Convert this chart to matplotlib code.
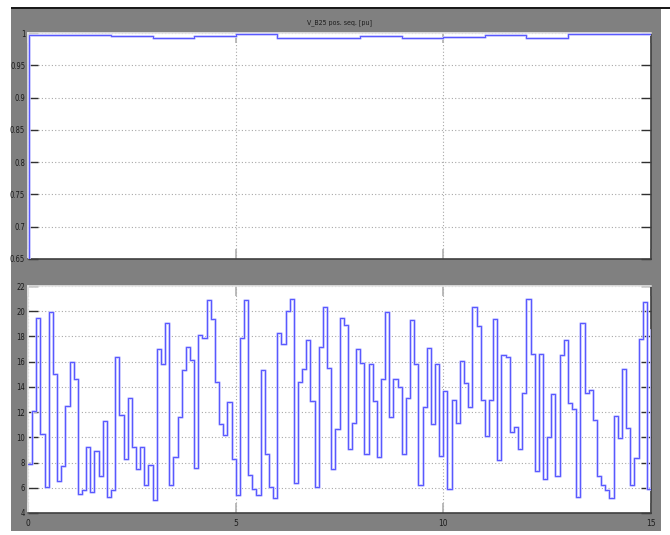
import matplotlib
matplotlib.use("Agg")
import matplotlib.pyplot as plt
from matplotlib.patches import Rectangle
import numpy as np

# ---- data -------------------------------------------------------------
title_text = "V_B25 pos. seq. [pu]"

# positive-sequence voltage at B25 (pu), piecewise constant
vpos_t = [0.0, 0.02, 2, 3, 4, 5, 6, 7, 8, 9, 10, 11, 12, 13, 15]
vpos_v = [0.60, 0.9975, 0.9955, 0.993, 0.9955, 0.998, 0.993, 0.9922,
          0.9958, 0.9916, 0.9942, 0.9969, 0.9927, 0.9978, 0.9978]

# wind speed (m/s), one value every 0.1 s
wind_dt = 0.1
wind_v = [
    7.9, 12.1, 19.5, 10.3, 6.1, 19.9, 15.0, 6.5, 7.7, 12.5,
    16.0, 14.6, 5.5, 5.8, 9.2, 5.7, 8.9, 6.9, 11.3, 5.3,
    5.8, 16.4, 11.8, 8.3, 13.1, 9.2, 7.45, 9.2, 6.2, 7.8,
    5.0, 17.0, 15.8, 19.1, 6.2, 8.45, 11.65, 15.3, 17.2, 16.1,
    7.6, 18.1, 17.9, 20.9, 19.4, 14.4, 11.05, 10.2, 12.8, 8.3,
    5.4, 17.9, 20.9, 7.0, 5.9, 5.4, 15.3, 8.7, 6.1, 5.2,
    18.3, 17.4, 20.05, 21.0, 6.35, 14.4, 15.4, 17.7, 12.9, 6.1,
    17.2, 20.3, 15.5, 7.5, 10.65, 19.45, 18.9, 9.1, 11.1, 17.0,
    15.9, 8.7, 15.85, 12.9, 8.45, 14.65, 19.95, 11.6, 14.6, 14.0,
    8.7, 13.1, 19.3, 15.8, 6.2, 12.4, 17.1, 11.05, 15.8, 8.5,
    13.7, 5.9, 12.95, 11.1, 16.05, 14.3, 12.4, 20.3, 18.85, 13.0,
    10.1, 13.0, 19.4, 8.2, 16.55, 16.4, 10.45, 10.8, 9.05, 13.55,
    21.0, 16.6, 7.3, 16.6, 6.7, 10.05, 13.4, 6.9, 16.55, 17.7,
    12.7, 12.25, 5.3, 19.05, 13.55, 13.75, 11.35, 6.95, 6.2, 5.8,
    5.2, 11.7, 9.95, 15.45, 10.75, 6.2, 8.35, 17.8, 20.75, 5.9,
    18.5,
]

top_yticks = [0.65, 0.7, 0.75, 0.8, 0.85, 0.9, 0.95, 1.0]
top_ylabels = ["0.65", "0.7", "0.75", "0.8", "0.85", "0.9", "0.95", "1"]
bot_yticks = [4, 6, 8, 10, 12, 14, 16, 18, 20, 22]
xticks = [0, 5, 10, 15]

# ---- figure -----------------------------------------------------------
W, H = 670, 535
fig = plt.figure(figsize=(W / 100, H / 100), dpi=100, facecolor="white")

FONT = ["DejaVu Sans"]
GRAY = "#808080"
LABEL_KW = dict(family=FONT, stretch="condensed", color="#1c1c1c")

# scope window background
fig.patches.append(Rectangle((11 / W, 1 - 531 / H), (661 - 11) / W, (531 - 9) / H,
                             transform=fig.transFigure, facecolor=GRAY,
                             edgecolor="none", zorder=-3))
fig.patches.append(Rectangle((11 / W, 1 - 9 / H), (670 - 11) / W, 2 / H,
                             transform=fig.transFigure, facecolor="#1a1a1a",
                             edgecolor="none", zorder=-2))


def px_axes(left, top, right, bottom):
    return fig.add_axes([left / W, 1 - bottom / H, (right - left) / W, (bottom - top) / H])


ax1 = px_axes(28, 33, 651, 259)
ax2 = px_axes(28, 286, 651, 513)

for ax in (ax1, ax2):
    ax.set_facecolor("white")
    ax.set_xlim(0, 15)
    ax.set_xticks(xticks)
    ax.grid(True, color="#a8a8a8", linestyle=(0, (1, 2)), linewidth=0.8)
    for side in ("left", "top"):
        ax.spines[side].set_color("#e8e8e8")
    for side in ("right", "bottom"):
        ax.spines[side].set_color("#404040")
    for s in ax.spines.values():
        s.set_linewidth(1.2)
    ax.tick_params(axis="y", direction="in", length=7, width=1.0, color="#303030",
                   left=True, right=True, labelsize=5.5, pad=2)
    ax.tick_params(axis="x", direction="in", length=7, width=1.2, color="#b0b0b0",
                   top=True, bottom=True, labelsize=6, pad=4)


def trace(ax, t, v):
    ax.step(t, v, where="post", color="#c0c0ff", linewidth=1.9, zorder=3)
    ax.step(t, v, where="post", color="#4646ff", linewidth=0.6, zorder=4)


# top: voltage
trace(ax1, vpos_t, vpos_v)
ax1.set_ylim(0.65, 1.0)
ax1.set_yticks(top_yticks)
ax1.set_yticklabels(top_ylabels, **LABEL_KW)
ax1.set_xticklabels([])
ax1.set_title(title_text, fontsize=5, pad=6, **LABEL_KW)

# bottom: wind speed
wind_t = np.arange(len(wind_v)) * wind_dt
trace(ax2, wind_t, wind_v)
ax2.set_ylim(4, 22)
ax2.set_yticks(bot_yticks)
ax2.set_yticklabels([str(v) for v in bot_yticks], **LABEL_KW)
ax2.set_xticklabels([str(v) for v in xticks], **LABEL_KW)

fig.savefig("out.png", dpi=100, facecolor="white")
